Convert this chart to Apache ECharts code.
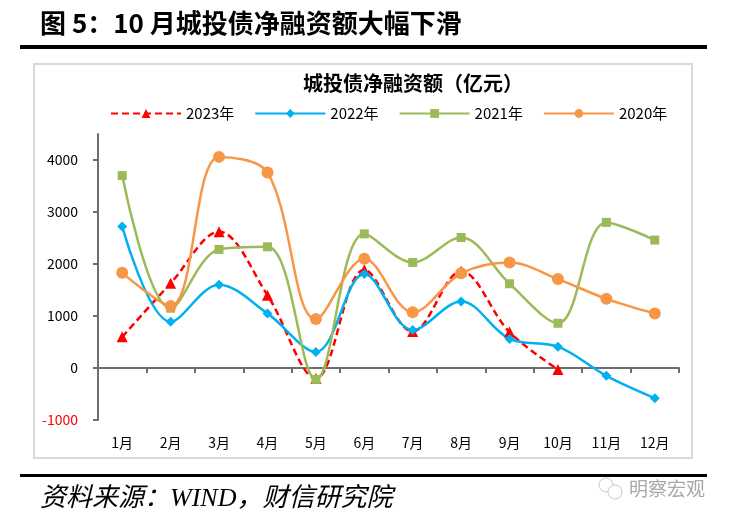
<!DOCTYPE html>
<html><head><meta charset="utf-8">
<script src="https://cdn.jsdelivr.net/npm/echarts@6/dist/echarts.min.js"></script>
<style>html,body{margin:0;padding:0;background:#fff}#c{width:730px;height:523px}</style>
</head><body><div id="c"></div>
<script>
const months = ['1月','2月','3月','4月','5月','6月','7月','8月','9月','10月','11月','12月'];
const seriesNames = ['2023年','2022年','2021年','2020年'];
const s2023 = [600, 1630, 2620, 1400, -200, 1890, 700, 1860, 690, -30];
const s2022 = [2720, 890, 1600, 1050, 310, 1810, 730, 1280, 560, 410, -150, -580];
const s2021 = [3700, 1150, 2280, 2330, -220, 2580, 2030, 2510, 1620, 860, 2800, 2460];
const s2020 = [1830, 1190, 4060, 3760, 940, 2100, 1070, 1820, 2030, 1710, 1330, 1050];
const yTicks = [-1000, 0, 1000, 2000, 3000, 4000];

const chart = echarts.init(document.getElementById('c'), null, {renderer: 'canvas'});
const CJK = '"Noto Sans CJK SC", "Noto Sans", sans-serif';
const axisGray = '#6e6e6e';
const smoothVal = 0.35;

const option = {
  backgroundColor: '#fff',
  animation: false,
  grid: {left: 98, right: 51, top: 134, bottom: 103, containLabel: false},
  legend: {
    top: 101, left: 105,
    itemWidth: 70, itemHeight: 11, itemGap: 20,
    textStyle: {fontFamily: CJK, fontSize: 15, color: '#000'},
    data: seriesNames
  },
  xAxis: [
    {
      type: 'category', data: months, position: 'top', boundaryGap: true,
      axisLine: {onZero: true, lineStyle: {color: axisGray, width: 2}},
      axisTick: {show: true, inside: true, length: 5, lineStyle: {color: axisGray, width: 2}},
      axisLabel: {show: false}, splitLine: {show: false}
    },
    {
      type: 'category', data: months, position: 'bottom', boundaryGap: true,
      axisLine: {show: false, onZero: false}, axisTick: {show: false},
      axisLabel: {show: true, margin: 16, fontFamily: CJK, fontSize: 14, color: '#000'},
      splitLine: {show: false}
    }
  ],
  yAxis: {
    type: 'value', min: -1000, max: 4500,
    axisLine: {show: true, lineStyle: {color: axisGray, width: 2}},
    axisTick: {show: true, length: 5, customValues: yTicks, lineStyle: {color: axisGray, width: 2}},
    axisLabel: {
      margin: 20, customValues: yTicks, fontFamily: CJK, fontSize: 14, color: '#000',
      formatter: v => v < 0 ? '{r|' + v + '}' : String(v),
      rich: {r: {color: '#ff0000', fontFamily: CJK, fontSize: 14}}
    },
    splitLine: {show: false}
  },
  series: [
    {
      name: seriesNames[0], type: 'line', data: s2023, smooth: smoothVal,
      symbol: 'triangle', symbolSize: 11,
      itemStyle: {color: '#ff0000'},
      lineStyle: {color: '#ff0000', width: 2.5, type: [7, 4]}
    },
    {
      name: seriesNames[1], type: 'line', data: s2022, smooth: smoothVal,
      symbol: 'diamond', symbolSize: 10,
      itemStyle: {color: '#00b0f0'},
      lineStyle: {color: '#00b0f0', width: 2.5}
    },
    {
      name: seriesNames[2], type: 'line', data: s2021, smooth: smoothVal,
      symbol: 'rect', symbolSize: 9,
      itemStyle: {color: '#9bbb59'},
      lineStyle: {color: '#9bbb59', width: 2.5}
    },
    {
      name: seriesNames[3], type: 'line', data: s2020, smooth: smoothVal,
      symbol: 'circle', symbolSize: 12,
      itemStyle: {color: '#f79646'},
      lineStyle: {color: '#f79646', width: 2.5}
    }
  ],
  graphic: [
    {type: 'text', left: 40, top: 10, style: {text: '图 5：10 月城投债净融资额大幅下滑', font: 'bold 26px ' + CJK, fill: '#000'}},
    {type: 'rect', shape: {x: 20, y: 45, width: 687, height: 4}, style: {fill: '#000'}},
    {type: 'rect', shape: {x: 34, y: 64, width: 658, height: 394}, style: {fill: 'none', stroke: '#d9d9d9', lineWidth: 2}},
    {type: 'text', x: 413, y: 83, style: {text: '城投债净融资额（亿元）', font: 'bold 20px ' + CJK, fill: '#000', align: 'center', verticalAlign: 'middle'}},
    {type: 'rect', shape: {x: 20, y: 474, width: 687, height: 3}, style: {fill: '#000'}},
    {type: 'text', x: 40, y: 499, style: {text: '资料来源：WIND，财信研究院', font: 'italic 26px "Liberation Serif", ' + CJK, fill: '#000', verticalAlign: 'middle'}},
    {type: 'circle', shape: {cx: 606, cy: 485, r: 7}, style: {fill: '#fff', stroke: '#c8c8c8', lineWidth: 1}},
    {type: 'circle', shape: {cx: 615, cy: 492, r: 7}, style: {fill: '#fff', stroke: '#c8c8c8', lineWidth: 1}},
    {type: 'text', x: 629, y: 489, style: {text: '明察宏观', font: '19px ' + CJK, fill: '#a8a8a8', verticalAlign: 'middle'}}
  ]
};
chart.setOption(option);
</script>
</body></html>
